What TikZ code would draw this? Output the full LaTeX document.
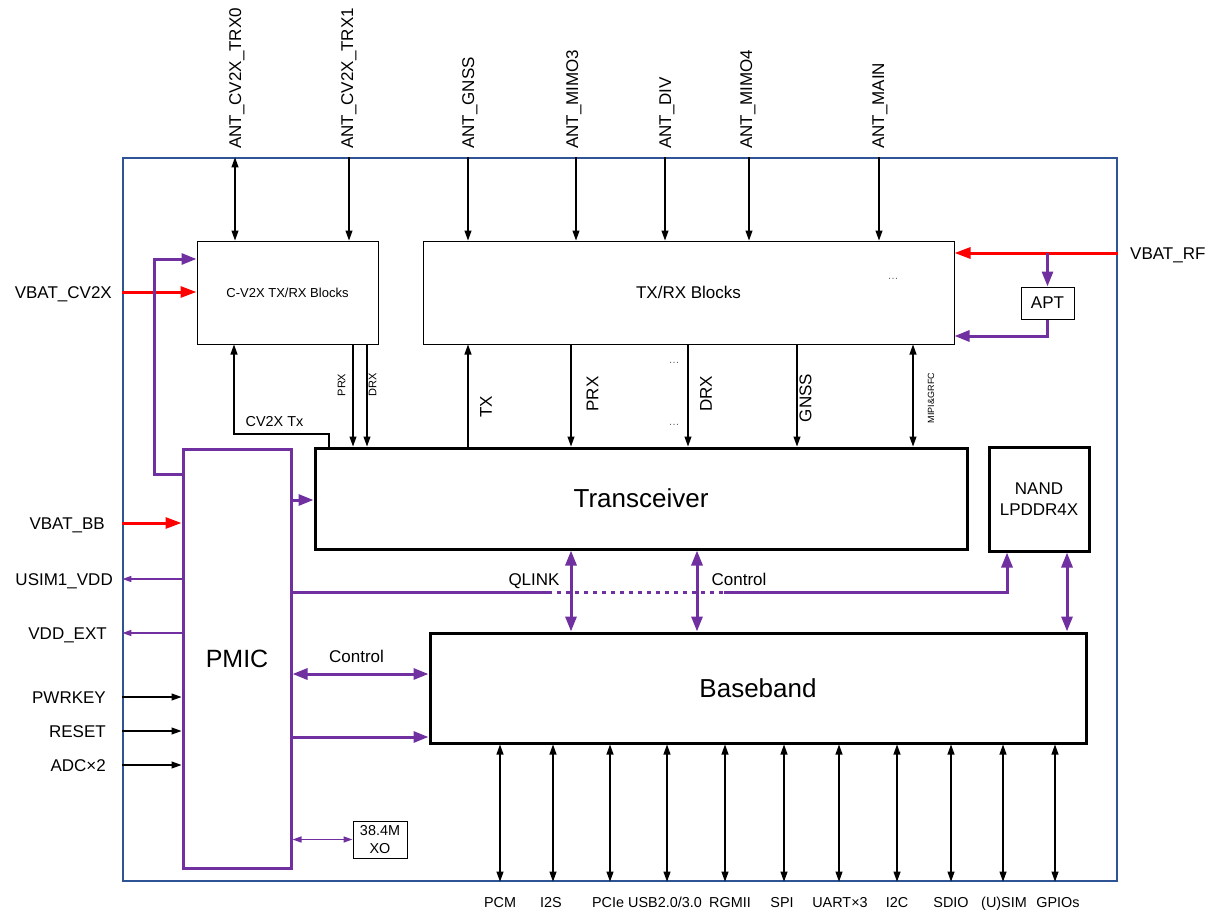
\documentclass[tikz,border=0pt]{standalone}
\usepackage{fontspec}
\setmainfont{Liberation Sans}
\usetikzlibrary{arrows.meta}
\definecolor{pur}{RGB}{112,48,160}
\definecolor{frm}{RGB}{47,84,150}
\definecolor{rd}{RGB}{255,0,0}
\begin{document}
\begin{tikzpicture}[x=1pt,y=-1pt,
  lbl/.style={inner sep=0},
  fA/.style={font=\fontsize{17}{21}\selectfont},
  fB/.style={font=\fontsize{14.4}{18}\selectfont},
  fC/.style={font=\fontsize{11}{13}\selectfont},
  fBig/.style={font=\fontsize{26}{30}\selectfont},
  thinbox/.style={draw=black, line width=1pt, inner sep=0},
  thickbox/.style={draw=black, line width=3pt, inner sep=0},
  bk/.style={draw=black, line width=1.1pt},
  bkar/.style={bk, -{Triangle[length=10pt,width=7pt]}},
  bkdar/.style={bk, {Triangle[length=10pt,width=7pt]}-{Triangle[length=10pt,width=7pt]}},
  pu/.style={draw=pur, line width=3pt},
  puar/.style={pu, -{Triangle[length=15pt,width=11pt]}},
  pudar/.style={pu, {Triangle[length=15pt,width=11pt]}-{Triangle[length=15pt,width=11pt]}},
  pt/.style={draw=pur, line width=1.5pt},
  ptar/.style={pt, -{Triangle[length=9pt,width=6pt]}},
  ptdar/.style={pt, {Triangle[length=9pt,width=6pt]}-{Triangle[length=9pt,width=6pt]}},
  rdar/.style={draw=rd, line width=3pt, -{Triangle[length=16pt,width=11pt]}},
  dotsn/.style={inner sep=0, text=black!60, font=\fontsize{11}{13}\selectfont}
]
\path[use as bounding box] (0,0) rectangle (1217,912);

% frame
\node[draw=frm, line width=1.2pt, inner sep=0, minimum width=994, minimum height=723] (frame) at (620,519.5) {};

% blocks
\node[thinbox, minimum width=181, minimum height=103, font=\fontsize{13}{15}\selectfont] (cv2x) at (287.5,292.5) {C-V2X TX/RX Blocks};
\node[thinbox, minimum width=531, minimum height=103, fA] (txrx) at (688.5,292.5) {TX/RX Blocks};
\node[thinbox, minimum width=53, minimum height=32, fA] (apt) at (1047.5,303) {APT};
\node[thickbox, minimum width=652, minimum height=101, fBig] (trx) at (641,498.5) {Transceiver};
\node[thickbox, minimum width=100, minimum height=104, fA, align=center] (nand) at (1039,499) {NAND\\LPDDR4X};
\node[thickbox, minimum width=656, minimum height=110, fBig] (bb) at (758,688) {Baseband};
\node[draw=pur, line width=3pt, inner sep=0, minimum width=108, minimum height=419, font=\fontsize{25}{30}\selectfont] (pmic) at (237,658.5) {PMIC};
\node[thinbox, minimum width=54, minimum height=37, fB, align=center] (xo) at (380,839.5) {38.4M\\XO};

% dots
\node[dotsn] (dt1) at (893,279) {\dots};
\node[dotsn] (dt2) at (674,363) {\dots};
\node[dotsn] (dt3) at (674,425) {\dots};

% antenna columns
\coordinate (A0) at (235,0);
\coordinate (A1) at (349,0);
\coordinate (A2) at (468,0);
\coordinate (A3) at (576,0);
\coordinate (A4) at (665,0);
\coordinate (A5) at (749,0);
\coordinate (A6) at (879,0);
\draw[bkdar] (frame.north -| A0) -- (cv2x.north -| A0);
\draw[bkar] (frame.north -| A1) -- (cv2x.north -| A1);
\draw[bkar] (frame.north -| A2) -- (txrx.north -| A2);
\draw[bkar] (frame.north -| A3) -- (txrx.north -| A3);
\draw[bkar] (frame.north -| A4) -- (txrx.north -| A4);
\draw[bkar] (frame.north -| A5) -- (txrx.north -| A5);
\draw[bkar] (frame.north -| A6) -- (txrx.north -| A6);
\node[lbl, fA, rotate=90, anchor=base west] (lA0) at (241,149) {ANT\_CV2X\_TRX0};
\node[lbl, fA, rotate=90, anchor=base west] (lA1) at (353,149) {ANT\_CV2X\_TRX1};
\node[lbl, fA, rotate=90, anchor=base west] (lA2) at (474,149) {ANT\_GNSS};
\node[lbl, fA, rotate=90, anchor=base west] (lA3) at (578,149) {ANT\_MIMO3};
\node[lbl, fA, rotate=90, anchor=base west] (lA4) at (671,149) {ANT\_DIV};
\node[lbl, fA, rotate=90, anchor=base west] (lA5) at (752,149) {ANT\_MIMO4};
\node[lbl, fA, rotate=90, anchor=base west] (lA6) at (884,149) {ANT\_MAIN};

% VBAT_RF and APT
\draw[rdar] (frame.east |- 0,253) -- (txrx.east |- 0,253);
\node[lbl, fA, anchor=base west] (lrf) at (1130,259) {VBAT\_RF};
\draw[puar] (apt.north |- 0,253) -- (apt.north);
\draw[puar] (apt.south) |- (txrx.east |- 0,336);

% left side
\draw[rdar] (frame.west |- 0,292) -- (cv2x.west |- 0,292);
\node[lbl, fA, anchor=base east] (lcv) at (112,298) {VBAT\_CV2X};
\coordinate (bendL) at (154,259);
\draw[puar] (pmic.west |- 0,474) -| (bendL) -- (cv2x.west |- bendL);
\draw[rdar] (frame.west |- 0,523) -- (pmic.west |- 0,523);
\node[lbl, fA, anchor=base east] (lbb) at (105,529) {VBAT\_BB};
\draw[ptar] (pmic.west |- 0,579) -- (frame.west |- 0,579);
\node[lbl, fA, anchor=base east] (lusim) at (113,585) {USIM1\_VDD};
\draw[ptar] (pmic.west |- 0,633) -- (frame.west |- 0,633);
\node[lbl, fA, anchor=base east] (lext) at (107,639) {VDD\_EXT};
\draw[bkar] (frame.west |- 0,697) -- (pmic.west |- 0,697);
\node[lbl, fA, anchor=base east] (lpwr) at (106,703) {PWRKEY};
\draw[bkar] (frame.west |- 0,731) -- (pmic.west |- 0,731);
\node[lbl, fA, anchor=base east] (lrst) at (106,737) {RESET};
\draw[bkar] (frame.west |- 0,765) -- (pmic.west |- 0,765);
\node[lbl, fA, anchor=base east] (ladc) at (106,771) {ADC×2};

% C-V2X <-> Transceiver
\draw[bkar] (trx.north -| 329,0) |- (234,434) -- (cv2x.south -| 234,0);
\node[lbl, fB] (lcvtx) at (274.5,422) {CV2X Tx};
\draw[bkar] (cv2x.south -| 353,0) -- (trx.north -| 353,0);
\draw[bkar] (cv2x.south -| 367,0) -- (trx.north -| 367,0);
\node[lbl, fC, rotate=90] (lprx1) at (341.7,385) {PRX};
\node[lbl, fC, rotate=90] (ldrx1) at (372.5,385) {DRX};

% TX/RX <-> Transceiver
\draw[bkar] (trx.north -| 468,0) -- (txrx.south -| 468,0);
\draw[bkar] (txrx.south -| 571,0) -- (trx.north -| 571,0);
\draw[bkar] (txrx.south -| 688,0) -- (trx.north -| 688,0);
\draw[bkar] (txrx.south -| 797,0) -- (trx.north -| 797,0);
\draw[bkdar] (txrx.south -| 913,0) -- (trx.north -| 913,0);
\node[lbl, fA, rotate=90] (ltx) at (486,407) {TX};
\node[lbl, fA, rotate=90] (lprx) at (592.5,394) {PRX};
\node[lbl, fA, rotate=90] (ldrx) at (706,394) {DRX};
\node[lbl, fA, rotate=90] (lgnss) at (805.5,398) {GNSS};
\node[lbl, font=\fontsize{9}{11}\selectfont, rotate=90] (lmipi) at (931,398) {MIPI\&GRFC};

% PMIC -> Transceiver
\draw[puar] (pmic.east |- 0,500) -- (trx.west |- 0,500);

% QLINK / Control line
\coordinate (qa) at (548,592);
\coordinate (qb) at (724,592);
\draw[pu] (pmic.east |- qa) -- (qa);
\draw[pu, dash pattern=on 4pt off 5pt] (qa) -- (qb);
\draw[puar] (qb) -| (nand.south -| 1007,0);
\node[lbl, fA] (lql) at (534,581) {QLINK};
\node[lbl, fA] (lctl) at (739,579) {Control};
\draw[pudar] (trx.south -| 571,0) -- (bb.north -| 571,0);
\draw[pudar] (trx.south -| 697,0) -- (bb.north -| 697,0);
\draw[pudar] (nand.south -| 1067,0) -- (bb.north -| 1067,0);

% PMIC <-> Baseband
\draw[pudar] (pmic.east |- 0,674) -- (bb.west |- 0,674);
\node[lbl, fA] (lctl2) at (356.5,656) {Control};
\draw[puar] (pmic.east |- 0,737) -- (bb.west |- 0,737);
\draw[ptdar] (pmic.east |- xo.west) -- (xo.west);

% bottom interfaces
\foreach \lx/\tx/\t in {500/500/PCM, 553/551/I2S, 610/608/PCIe, 667/665/USB2.0\slash 3.0, 725/730/RGMII, 784/782/SPI, 839/840/UART×3, 897/897/I2C, 951/951/SDIO, 1003/1004/(U)SIM, 1055/1058/GPIOs}{
  \draw[bkdar] (bb.south -| \lx,0) -- (frame.south -| \lx,0);
  \node[lbl, fB, anchor=base] at (\tx,907) {\t};
}
\end{tikzpicture}
\end{document}
